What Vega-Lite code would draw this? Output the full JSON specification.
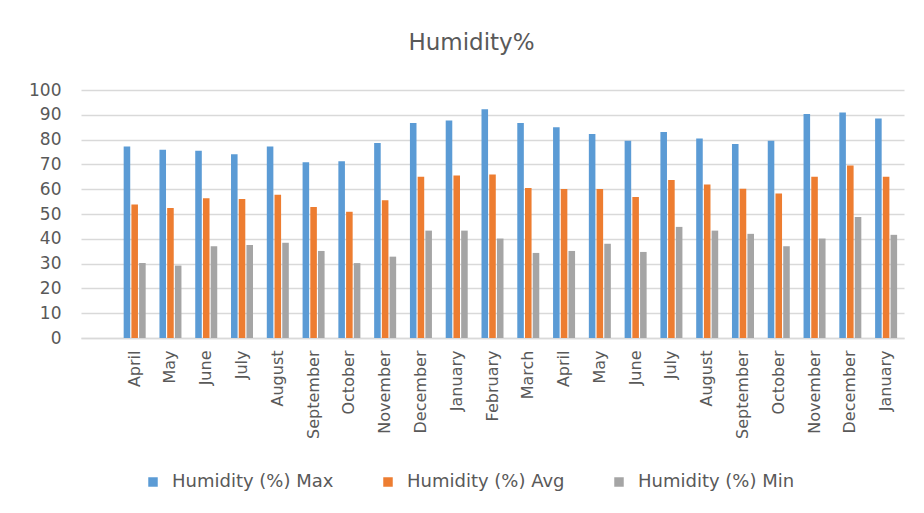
{
  "$schema": "https://vega.github.io/schema/vega-lite/v6.json",
  "width": 823,
  "height": 248,
  "autosize": {"type": "none"},
  "padding": {"left": 81, "top": 90, "right": 20, "bottom": 175},
  "background": "white",
  "title": {
    "text": "Humidity%",
    "frame": "group",
    "anchor": "middle",
    "dx": -21,
    "offset": 8,
    "baseline": "alphabetic",
    "font": "DejaVu Sans",
    "fontSize": 23,
    "fontWeight": "normal",
    "color": "#595959"
  },
  "config": {
    "view": {"stroke": null},
    "font": "DejaVu Sans"
  },
  "data": {
    "values": [
      {"period": "April 2019", "series": "Humidity (%) Max", "value": 77.2},
      {"period": "April 2019", "series": "Humidity (%) Avg", "value": 53.8},
      {"period": "April 2019", "series": "Humidity (%) Min", "value": 30.2},
      {"period": "May 2019", "series": "Humidity (%) Max", "value": 75.9},
      {"period": "May 2019", "series": "Humidity (%) Avg", "value": 52.4},
      {"period": "May 2019", "series": "Humidity (%) Min", "value": 29.2},
      {"period": "June 2019", "series": "Humidity (%) Max", "value": 75.5},
      {"period": "June 2019", "series": "Humidity (%) Avg", "value": 56.4},
      {"period": "June 2019", "series": "Humidity (%) Min", "value": 37.0},
      {"period": "July 2019", "series": "Humidity (%) Max", "value": 74.1},
      {"period": "July 2019", "series": "Humidity (%) Avg", "value": 56.0},
      {"period": "July 2019", "series": "Humidity (%) Min", "value": 37.5},
      {"period": "August 2019", "series": "Humidity (%) Max", "value": 77.2},
      {"period": "August 2019", "series": "Humidity (%) Avg", "value": 57.8},
      {"period": "August 2019", "series": "Humidity (%) Min", "value": 38.4},
      {"period": "September 2019", "series": "Humidity (%) Max", "value": 70.9},
      {"period": "September 2019", "series": "Humidity (%) Avg", "value": 52.8},
      {"period": "September 2019", "series": "Humidity (%) Min", "value": 35.1},
      {"period": "October 2019", "series": "Humidity (%) Max", "value": 71.3},
      {"period": "October 2019", "series": "Humidity (%) Avg", "value": 50.9},
      {"period": "October 2019", "series": "Humidity (%) Min", "value": 30.2},
      {"period": "November 2019", "series": "Humidity (%) Max", "value": 78.6},
      {"period": "November 2019", "series": "Humidity (%) Avg", "value": 55.5},
      {"period": "November 2019", "series": "Humidity (%) Min", "value": 32.8},
      {"period": "December 2019", "series": "Humidity (%) Max", "value": 86.7},
      {"period": "December 2019", "series": "Humidity (%) Avg", "value": 65.0},
      {"period": "December 2019", "series": "Humidity (%) Min", "value": 43.3},
      {"period": "January 2020", "series": "Humidity (%) Max", "value": 87.7},
      {"period": "January 2020", "series": "Humidity (%) Avg", "value": 65.5},
      {"period": "January 2020", "series": "Humidity (%) Min", "value": 43.3},
      {"period": "February 2020", "series": "Humidity (%) Max", "value": 92.2},
      {"period": "February 2020", "series": "Humidity (%) Avg", "value": 65.9},
      {"period": "February 2020", "series": "Humidity (%) Min", "value": 40.1},
      {"period": "March 2020", "series": "Humidity (%) Max", "value": 86.7},
      {"period": "March 2020", "series": "Humidity (%) Avg", "value": 60.5},
      {"period": "March 2020", "series": "Humidity (%) Min", "value": 34.3},
      {"period": "April 2020", "series": "Humidity (%) Max", "value": 85.0},
      {"period": "April 2020", "series": "Humidity (%) Avg", "value": 60.1},
      {"period": "April 2020", "series": "Humidity (%) Min", "value": 35.1},
      {"period": "May 2020", "series": "Humidity (%) Max", "value": 82.3},
      {"period": "May 2020", "series": "Humidity (%) Avg", "value": 60.1},
      {"period": "May 2020", "series": "Humidity (%) Min", "value": 38.0},
      {"period": "June 2020", "series": "Humidity (%) Max", "value": 79.5},
      {"period": "June 2020", "series": "Humidity (%) Avg", "value": 56.9},
      {"period": "June 2020", "series": "Humidity (%) Min", "value": 34.7},
      {"period": "July 2020", "series": "Humidity (%) Max", "value": 83.1},
      {"period": "July 2020", "series": "Humidity (%) Avg", "value": 63.7},
      {"period": "July 2020", "series": "Humidity (%) Min", "value": 44.8},
      {"period": "August 2020", "series": "Humidity (%) Max", "value": 80.4},
      {"period": "August 2020", "series": "Humidity (%) Avg", "value": 61.9},
      {"period": "August 2020", "series": "Humidity (%) Min", "value": 43.3},
      {"period": "September 2020", "series": "Humidity (%) Max", "value": 78.2},
      {"period": "September 2020", "series": "Humidity (%) Avg", "value": 60.2},
      {"period": "September 2020", "series": "Humidity (%) Min", "value": 42.0},
      {"period": "October 2020", "series": "Humidity (%) Max", "value": 79.5},
      {"period": "October 2020", "series": "Humidity (%) Avg", "value": 58.3},
      {"period": "October 2020", "series": "Humidity (%) Min", "value": 37.0},
      {"period": "November 2020", "series": "Humidity (%) Max", "value": 90.3},
      {"period": "November 2020", "series": "Humidity (%) Avg", "value": 65.0},
      {"period": "November 2020", "series": "Humidity (%) Min", "value": 40.1},
      {"period": "December 2020", "series": "Humidity (%) Max", "value": 90.9},
      {"period": "December 2020", "series": "Humidity (%) Avg", "value": 69.6},
      {"period": "December 2020", "series": "Humidity (%) Min", "value": 48.8},
      {"period": "January 2021", "series": "Humidity (%) Max", "value": 88.5},
      {"period": "January 2021", "series": "Humidity (%) Avg", "value": 65.0},
      {"period": "January 2021", "series": "Humidity (%) Min", "value": 41.6}
    ]
  },
  "mark": {"type": "bar"},
  "encoding": {
    "x": {
      "field": "period",
      "type": "nominal",
      "title": null,
      "scale": {
        "domain": [" ", "April 2019", "May 2019", "June 2019", "July 2019", "August 2019", "September 2019", "October 2019", "November 2019", "December 2019", "January 2020", "February 2020", "March 2020", "April 2020", "May 2020", "June 2020", "July 2020", "August 2020", "September 2020", "October 2020", "November 2020", "December 2020", "January 2021"],
        "paddingInner": 0.385,
        "paddingOuter": 0.1925
      },
      "axis": {
        "labelAngle": -90,
        "labelExpr": "split(datum.label, ' ')[0]",
        "labelFont": "DejaVu Sans",
        "labelFontSize": 16,
        "labelColor": "#595959",
        "labelPadding": 12,
        "ticks": false,
        "domainColor": "#d9d9d9",
        "domainWidth": 1.5,
        "grid": false
      }
    },
    "xOffset": {
      "field": "series",
      "type": "nominal",
      "scale": {
        "domain": ["Humidity (%) Max", "Humidity (%) Avg", "Humidity (%) Min"],
        "paddingInner": 0.15,
        "paddingOuter": 0
      }
    },
    "y": {
      "field": "value",
      "type": "quantitative",
      "title": null,
      "scale": {"domain": [0, 100]},
      "axis": {
        "values": [0, 10, 20, 30, 40, 50, 60, 70, 80, 90, 100],
        "labelFont": "DejaVu Sans",
        "labelFontSize": 17,
        "labelColor": "#595959",
        "labelPadding": 20,
        "ticks": false,
        "domain": false,
        "gridColor": "#d9d9d9",
        "gridWidth": 1.5
      }
    },
    "color": {
      "field": "series",
      "type": "nominal",
      "scale": {
        "domain": ["Humidity (%) Max", "Humidity (%) Avg", "Humidity (%) Min"],
        "range": ["#5b9bd5", "#ed7d31", "#a5a5a5"]
      },
      "legend": {
        "title": null,
        "orient": "none",
        "direction": "horizontal",
        "legendX": 63,
        "legendY": 383,
        "symbolType": "square",
        "symbolSize": 90,
        "symbolStrokeWidth": 0,
        "labelFont": "DejaVu Sans",
        "labelFontSize": 18,
        "labelLimit": 400,
        "labelColor": "#595959",
        "labelOffset": 10,
        "columnPadding": 45,
        "gridAlign": "none"
      }
    }
  }
}
